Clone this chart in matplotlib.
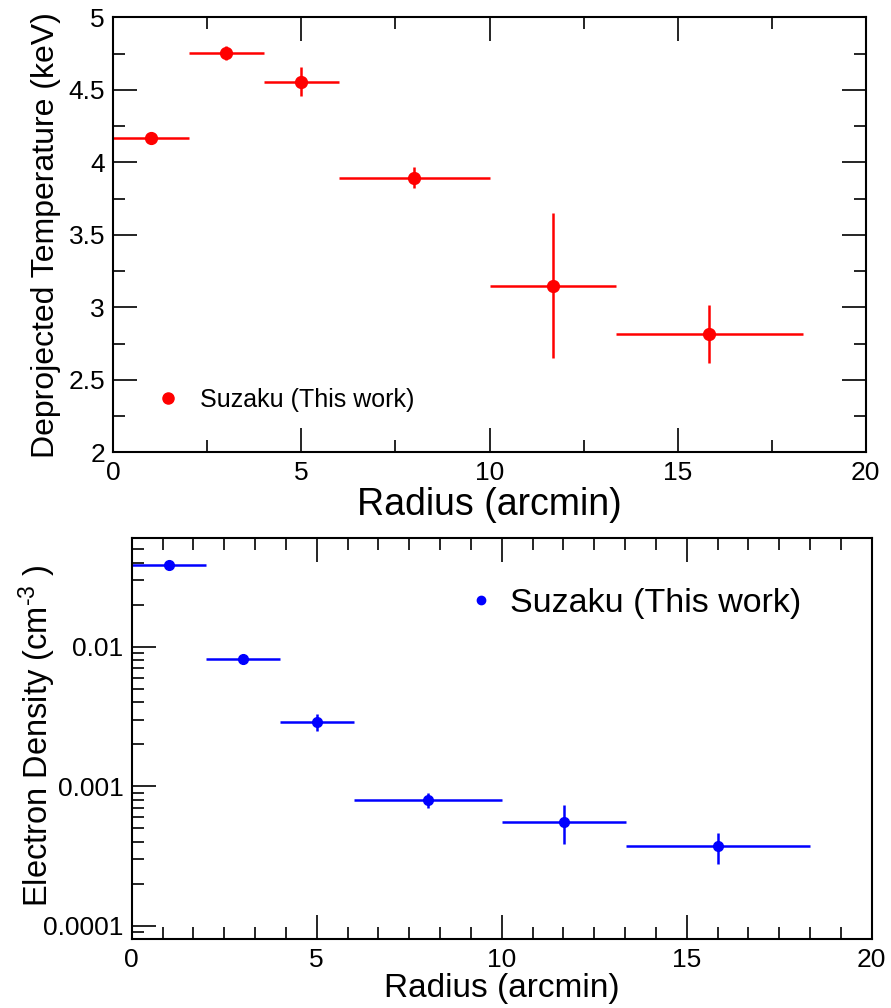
import numpy as np
import matplotlib
matplotlib.use("Agg")
import matplotlib.pyplot as plt
from matplotlib.lines import Line2D
from matplotlib.ticker import MultipleLocator, LogLocator, FixedLocator, NullFormatter, FixedFormatter

plt.rcParams["font.family"] = ["Liberation Sans", "DejaVu Sans"]
plt.rcParams["mathtext.fontset"] = "custom"
plt.rcParams["mathtext.rm"] = "Liberation Sans"
plt.rcParams["mathtext.it"] = "Liberation Sans"

# ── Data ──────────────────────────────────────────────────────────────────
r_center = [1.0, 3.0, 5.0, 8.0, 11.675, 15.845]
r_err    = [1.0, 1.0, 1.0, 2.0, 1.675, 2.495]

temp     = [4.17, 4.755, 4.555, 3.895, 3.15, 2.815]
temp_err = [0.01, 0.05, 0.10, 0.07, 0.50, 0.20]

dens     = [0.0385, 0.00818, 0.00288, 0.00080, 0.000558, 0.000372]
dens_err = [0.0012, 0.0006, 0.00040, 0.00010, 0.000170, 0.000094]

legend_label = "Suzaku (This work)"


def root_style(ax, labelsize, right_ticks=True):
    ax.tick_params(which="both", direction="in", top=True, right=right_ticks,
                   labelsize=labelsize, width=1.2, pad=6)
    ax.tick_params(which="major", length=17)
    ax.tick_params(which="minor", length=8.5)
    for s in ax.spines.values():
        s.set_linewidth(1.5)


fig = plt.figure(figsize=(8.91, 10.08), dpi=100)

# -- Top: deprojected temperature --
ax1 = fig.add_axes([0.1272, 0.5513, 0.8444, 0.4315])
ax1.errorbar(r_center, temp, xerr=r_err, yerr=temp_err, fmt="o", color="red",
             ms=8.5, elinewidth=1.8, capsize=0)
ax1.set_xlim(0, 20)
ax1.set_ylim(2, 5)
ax1.xaxis.set_major_locator(MultipleLocator(5))
ax1.xaxis.set_minor_locator(MultipleLocator(2.5))
ax1.yaxis.set_major_locator(MultipleLocator(0.5))
ax1.yaxis.set_minor_locator(MultipleLocator(0.25))
ax1.yaxis.set_major_formatter(plt.FuncFormatter(lambda v, p: f"{v:g}"))
root_style(ax1, 19)
ax1.set_ylabel("Deprojected Temperature (keV)", fontsize=23)
ax1.yaxis.set_label_coords(-0.069, 0.5)
ax1.set_xlabel("Radius (arcmin)", fontsize=27, labelpad=2)
h1 = Line2D([], [], marker="o", ls="none", color="red", ms=8)
ax1.legend([h1], [legend_label], loc="center left", bbox_to_anchor=(0.056, 0.12),
           frameon=False, fontsize=18, handlelength=1.0, handletextpad=0.78,
           borderpad=0, borderaxespad=0)

# -- Bottom: electron density --
ax2 = fig.add_axes([0.1478, 0.0682, 0.8305, 0.3978])
ax2.errorbar(r_center, dens, xerr=r_err, yerr=dens_err, fmt="o", color="blue",
             ms=7, elinewidth=1.8, capsize=0)
ax2.set_yscale("log")
ax2.set_xlim(0, 20)
ax2.set_ylim(8.0e-5, 0.06)
ax2.xaxis.set_major_locator(MultipleLocator(5))
ax2.xaxis.set_minor_locator(MultipleLocator(5 / 6))
ax2.yaxis.set_major_locator(FixedLocator([1e-4, 1e-3, 1e-2]))
ax2.yaxis.set_major_formatter(FixedFormatter(["0.0001", "0.001", "0.01"]))
ax2.yaxis.set_minor_locator(LogLocator(base=10, subs=np.arange(2, 10)))
ax2.yaxis.set_minor_formatter(NullFormatter())
root_style(ax2, 19, right_ticks=False)
ax2.set_ylabel("Electron Density (cm$^{\\text{-3}}$ )", fontsize=23.5)
ax2.yaxis.set_label_coords(-0.100, 0.508)
ax2.set_xlabel("Radius (arcmin)", fontsize=24, labelpad=1)
h2 = Line2D([], [], marker="o", ls="none", color="blue", ms=6)
ax2.legend([h2], [legend_label], loc="center left", bbox_to_anchor=(0.458, 0.838),
           frameon=False, fontsize=24.5, handlelength=0.6, handletextpad=0.55,
           borderpad=0, borderaxespad=0)

plt.savefig("out.png", dpi=100)
plt.close()
